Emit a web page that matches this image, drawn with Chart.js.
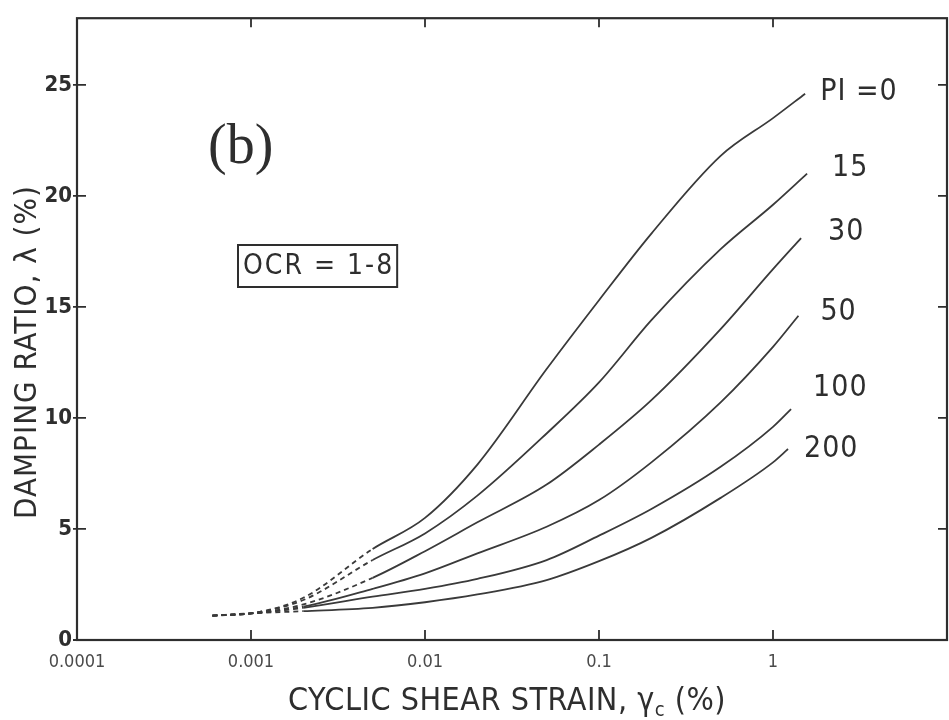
<!DOCTYPE html>
<html>
<head>
<meta charset="utf-8">
<script src="https://cdn.jsdelivr.net/npm/chart.js@4.4.1/dist/chart.umd.min.js"></script>
<style>
  body { margin: 0; background: #fff; }
</style>
</head>
<body>
<canvas id="damping-chart" width="949" height="720"></canvas>
<script>
// Strain values (%)
const strain = [0.0006, 0.001, 0.002, 0.005, 0.01, 0.02, 0.05, 0.1, 0.2, 0.5, 1];
// last point of each curve sits a bit past 1%
const endStrain = [1.53, 1.57, 1.45, 1.4, 1.27, 1.22];

// Damping ratio (%) for each plasticity index
const pi0   = [1.1, 1.2, 1.9, 4.1, 5.5, 7.9, 12.2, 15.3, 18.3, 21.8, 23.5, 24.6];
const pi15  = [1.1, 1.2, 1.8, 3.6, 4.8, 6.5, 9.3, 11.6, 14.4, 17.6, 19.6, 21.0];
const pi30  = [1.1, 1.2, 1.6, 2.8, 4.0, 5.3, 7.0, 8.8, 10.8, 14.0, 16.7, 18.1];
const pi50  = [1.1, 1.2, 1.5, 2.3, 3.0, 3.9, 5.1, 6.3, 8.0, 10.7, 13.2, 14.6];
const pi100 = [1.1, 1.2, 1.45, 1.95, 2.3, 2.75, 3.6, 4.7, 5.9, 7.8, 9.6, 10.4];
const pi200 = [1.1, 1.2, 1.3, 1.45, 1.7, 2.05, 2.7, 3.55, 4.6, 6.4, 8.0, 8.6];

const curveLabels = ['PI =0', '15', '30', '50', '100', '200'];
const xTicks = [0.0001, 0.001, 0.01, 0.1, 1, 10];
const xTickLabels = ['0.0001', '0.001', '0.01', '0.1', '1', ''];
const yTicks = [0, 5, 10, 15, 20, 25];

// x title is drawn in three pieces so the "c" can sit as a subscript
const xTitleParts = ['CYCLIC SHEAR STRAIN, γ', 'c', ' (%)'];
const yTitle = 'DAMPING RATIO, λ (%)';

// where the dashed start of each curve stops
const dashEnd = [0.005, 0.005, 0.005, 0.002, 0.002, 0.002];
// label nudges from the end of each curve (px)
const labelDx = [15, 25, 27, 22, 22, 16];
const labelDy = [-2, -5, -6, -4, -21, 0];

const ink = '#2e2e2e';
const narrow = '"DejaVu Sans Condensed", "Liberation Sans Narrow", sans-serif';

function makeSet(vals, i) {
    const pts = strain.map((s, k) => ({ x: s, y: vals[k] }));
    pts.push({ x: endStrain[i], y: vals[vals.length - 1] });
    return {
        label: curveLabels[i],
        data: pts,
        borderColor: '#3a3a3a',
        borderWidth: 1.8,
        pointRadius: 0,
        fill: false,
        cubicInterpolationMode: 'monotone',
        segment: {
            borderDash: ctx => ctx.p1.parsed.x <= dashEnd[i] ? [5, 4] : undefined
        }
    };
}

// frame, inward ticks, axis titles, curve labels and the two notes on the plot
const decorations = {
    id: 'decorations',
    afterDraw(chart) {
        const { ctx, chartArea: a, scales } = chart;
        ctx.save();
        ctx.strokeStyle = ink;
        ctx.lineWidth = 2.2;
        ctx.strokeRect(a.left, a.top, a.right - a.left, a.bottom - a.top);

        ctx.lineWidth = 1.8;
        yTicks.forEach(v => {
            const py = scales.y.getPixelForValue(v);
            ctx.beginPath();
            ctx.moveTo(a.left - 4, py); ctx.lineTo(a.left + 9, py);
            ctx.moveTo(a.right - 9, py); ctx.lineTo(a.right, py);
            ctx.stroke();
        });
        xTicks.forEach(v => {
            const px = scales.x.getPixelForValue(v);
            ctx.beginPath();
            ctx.moveTo(px, a.bottom); ctx.lineTo(px, a.bottom - 10);
            ctx.moveTo(px, a.top); ctx.lineTo(px, a.top + 9);
            ctx.stroke();
        });

        ctx.fillStyle = ink;
        ctx.textBaseline = 'middle';

        // x axis title with subscript c
        ctx.textAlign = 'left';
        ctx.letterSpacing = '0.5px';
        const big = '32px ' + narrow, small = '20px ' + narrow;
        ctx.font = big;
        const w1 = ctx.measureText(xTitleParts[0]).width;
        const w3 = ctx.measureText(xTitleParts[2]).width;
        ctx.font = small;
        const w2 = ctx.measureText(xTitleParts[1]).width;
        let tx = (a.left + a.right) / 2 - 5 - (w1 + w2 + w3) / 2;
        ctx.font = big;
        ctx.fillText(xTitleParts[0], tx, 702);
        ctx.font = small;
        ctx.fillText(xTitleParts[1], tx + w1, 711);
        ctx.font = big;
        ctx.fillText(xTitleParts[2], tx + w1 + w2, 702);

        // y axis title
        ctx.textAlign = 'center';
        ctx.font = '31px ' + narrow;
        ctx.letterSpacing = '1px';
        ctx.save();
        ctx.translate(28, (a.top + a.bottom) / 2 + 23);
        ctx.rotate(-Math.PI / 2);
        ctx.fillText(yTitle, 0, 0);
        ctx.restore();

        // curve labels at the end of each line
        ctx.font = '30px ' + narrow;
        ctx.textAlign = 'left';
        chart.data.datasets.forEach((ds, i) => {
            const pts = chart.getDatasetMeta(i).data;
            const last = pts[pts.length - 1];
            ctx.fillText(ds.label, last.x + labelDx[i], last.y + labelDy[i]);
        });

        ctx.letterSpacing = '0px';
        ctx.font = '56px "Liberation Serif", "DejaVu Serif", serif';
        ctx.textBaseline = 'alphabetic';
        ctx.fillText('(b)', 208, 163);

        ctx.font = '28px ' + narrow;
        ctx.letterSpacing = '2px';
        ctx.textBaseline = 'middle';
        const note = 'OCR = 1-8';
        const w = ctx.measureText(note).width;
        ctx.fillText(note, 243, 267);
        ctx.lineWidth = 2;
        ctx.strokeRect(238, 245, w + 8, 42);
        ctx.restore();
    }
};

const config = {
    type: 'line',
    data: {
        datasets: [pi0, pi15, pi30, pi50, pi100, pi200].map(makeSet)
    },
    options: {
        responsive: false,
        animation: false,
        layout: { padding: { top: 10, right: 2, left: 0, bottom: 0 } },
        plugins: { legend: { display: false }, tooltip: { enabled: false } },
        scales: {
            x: {
                type: 'logarithmic',
                min: 0.0001,
                max: 10,
                grid: { display: false, drawTicks: false },
                border: { display: false },
                afterBuildTicks: s => { s.ticks = xTicks.map(v => ({ value: v })); },
                // fixed height; no extra room kept for the (empty) last label
                afterFit: s => { s.height = 80; s.paddingRight = 0; },
                ticks: {
                    autoSkip: false,
                    maxRotation: 0,
                    padding: 12,
                    color: '#4a4a4a',
                    font: { family: narrow, size: 18 },
                    callback: (v, idx) => xTickLabels[idx]
                }
            },
            y: {
                min: 0,
                max: 28,
                grid: { display: false, drawTicks: false },
                border: { display: false },
                afterBuildTicks: s => { s.ticks = yTicks.map(v => ({ value: v })); },
                afterFit: s => { s.width = 77; },
                ticks: {
                    padding: 5,
                    color: ink,
                    font: { family: narrow, size: 22, weight: 'bold' }
                }
            }
        }
    },
    plugins: [decorations]
};

const dampingChart = new Chart(document.getElementById('damping-chart'), config);
</script>
</body>
</html>
